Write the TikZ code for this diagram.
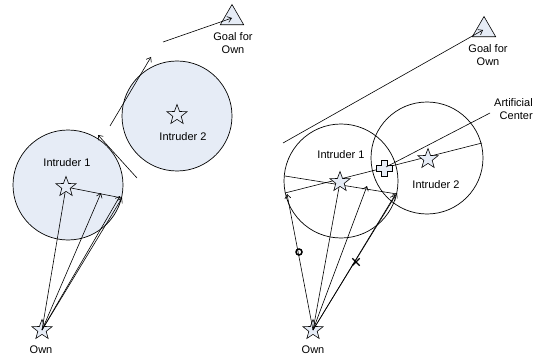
\documentclass[tikz,border=0pt]{standalone}
\usepackage{fontspec}
\setmainfont{Liberation Sans}
\usetikzlibrary{shapes.geometric,arrows.meta}
\definecolor{lb}{HTML}{E6ECF6}
\tikzset{
  lbl/.style={font=\fontsize{11}{13.5}\selectfont, inner sep=0pt, align=center},
  starn/.style={star, star points=5, star point ratio=2.4, draw, fill=lb, minimum size=21pt, inner sep=0pt, line width=0.6pt},
  circf/.style={circle, draw, fill=lb, line width=0.7pt, inner sep=0pt},
  circo/.style={circle, draw, line width=0.7pt, inner sep=0pt},
  ln/.style={line width=0.6pt},
  arr/.style={line width=0.6pt, -{Straight Barb[length=4pt,width=6pt]}},
  goal/.style={regular polygon, regular polygon sides=3, draw, fill=lb, minimum size=27pt, inner sep=0pt, line width=0.6pt},
}
\begin{document}
\begin{tikzpicture}[x=1pt,y=-1pt]
\useasboundingbox (0,0) rectangle (545,358);
% ---------------- left panel ----------------
\node[circf, minimum size=110pt] (c1L) at (68,185) {};
\node[circf, minimum size=110pt] (c2L) at (177,116) {};
\node[lbl] (t1L) at (67,163) {Intruder 1};
\node[lbl] (t2L) at (183,137) {Intruder 2};
\node[starn] (s1L) at (66,187) {};
\node[starn] (s2L) at (177,115) {};
\node[starn] (ownL) at (42,330) {};
\node[lbl] (ownLt) at (41,350) {Own};
\node[goal] (gL) at (232,18) {};
\node[lbl] (gLt) at (233,43) {Goal for\\Own};
\coordinate (e1L) at (122,198);
\coordinate (e1Lb) at (120,196);
\coordinate (p1L) at (101,193);
\coordinate (a1) at (137,178);
\coordinate (a2) at (98,135);
\coordinate (b1) at (110,126);
\coordinate (b2) at (151,57);
\coordinate (d1) at (163,42);
\coordinate (d2) at (232,18);
\draw[ln] (s1L) -- (e1L);
\draw[ln] (ownL.center) -- (s1L);
\draw[arr] (ownL.center) -- (p1L);
\draw[arr] (ownL.center) -- (e1L);
\draw[arr] (ownL.center) -- (e1Lb);
\draw[arr] (a1) -- (a2);
\draw[arr] (b1) -- (b2);
\draw[arr] (d1) -- (d2);
% ---------------- right panel ----------------
\node[circo, minimum size=114pt] (c1R) at (341,181) {};
\node[circo, minimum size=112pt] (c2R) at (427,158) {};
\node[lbl] (t1R) at (341,155) {Intruder 1};
\node[lbl] (t2R) at (436,185) {Intruder 2};
\coordinate (l1a) at (285,176);
\coordinate (l1b) at (397,194);
\coordinate (l2a) at (285,193);
\coordinate (l2b) at (482,143);
\draw[ln] (l1a) -- (l1b);
\draw[ln] (l2a) -- (l2b);
\node[starn] (s1R) at (340,182) {};
\node[starn] (s2R) at (428,159) {};
\node[starn] (ownR) at (313,330) {};
\node[lbl] (ownRt) at (313,350) {Own};
\node[goal] (gR) at (484,30) {};
\node[lbl] (gRt) at (488,55) {Goal for\\Own};
\node[lbl, align=right, anchor=south west] (art) at (494,120) {Artificial\\Center};
\draw[line width=0.6pt, fill=lb]
  (381,160) -- (387,160) -- (387,165) -- (392,165) -- (392,171) -- (387,171) -- (387,176)
  -- (381,176) -- (381,171) -- (376,171) -- (376,165) -- (381,165) -- cycle;
\coordinate (cross) at (386,167);
\coordinate (lead) at (490,113);
\draw[ln] (lead) -- (cross);
\coordinate (m1) at (287,194);
\coordinate (m2) at (367,186);
\coordinate (m3) at (397,193);
\coordinate (m3b) at (395,195);
\draw[ln] (ownR.center) -- (s1R);
\draw[arr] (ownR.center) -- (m1);
\draw[arr] (ownR.center) -- (m2);
\draw[arr] (ownR.center) -- (m3);
\draw[arr] (ownR.center) -- (m3b);
\coordinate (g1) at (283,143);
\coordinate (g2) at (483,30);
\draw[arr] (g1) -- (g2);
% markers
\node[circle, draw, line width=1.5pt, minimum size=6pt, inner sep=0pt] (mo) at (299,252) {};
\node[inner sep=0pt, minimum size=7pt] (mx) at (356,262) {};
\draw[line width=1.3pt] (mx.north west) -- (mx.south east) (mx.north east) -- (mx.south west);
\end{tikzpicture}
\end{document}
